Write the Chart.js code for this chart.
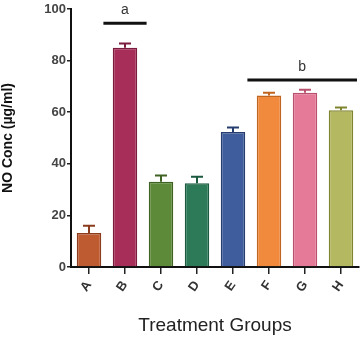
<!DOCTYPE html>
<html lang="en">
<head>
  <meta charset="UTF-8" />
  <title>NO Conc by Treatment Group</title>
  <script src="https://cdn.jsdelivr.net/npm/chart.js"></script>
  <style>
    body { margin: 0; background: #fff; }
    .wrap { width: 360px; height: 343px; }
  </style>
</head>
<body>
  <div class="wrap"><canvas id="noChart"></canvas></div>

  <script>
    // data
    const groups = ["A", "B", "C", "D", "E", "F", "G", "H"];
    const noConc = [13.2, 85, 33, 32.5, 52.3, 66.5, 67.5, 60.8];
    const noErr = [2.8, 1.6, 2.5, 2.5, 1.8, 1.0, 1.2, 1.0];
    const yTicks = [0, 20, 40, 60, 80, 100];

    // significance bars: label, first/last group, height (in y units)
    const sigLabels = ["a", "b"];
    const sigFrom = ["B", "F"];
    const sigTo = ["B", "H"];
    const sigLevel = [94.5, 72.5];

    const fillColors = ["#bf5b30", "#a62e58", "#5c8a38", "#2c7a58", "#3f5d9c", "#f28a3e", "#e47a98", "#b4b860"];
    const edgeColors = ["#8a3c1c", "#7a1c3e", "#3e6222", "#1a5a3e", "#243c70", "#c06620", "#b8506e", "#80842e"];

    const extras = {
      id: "extras",
      afterDatasetsDraw(chart) {
        const { ctx, scales: { x, y } } = chart;
        ctx.save();
        // error bars (upper half only)
        noConc.forEach((v, i) => {
          const cx = x.getPixelForValue(i);
          const top = y.getPixelForValue(v);
          const hi = y.getPixelForValue(v + noErr[i]);
          ctx.strokeStyle = edgeColors[i];
          ctx.lineWidth = 2;
          ctx.beginPath();
          ctx.moveTo(cx, top);
          ctx.lineTo(cx, hi);
          ctx.moveTo(cx - 6, hi);
          ctx.lineTo(cx + 6, hi);
          ctx.stroke();
        });
        // significance lines
        const step = x.getPixelForValue(1) - x.getPixelForValue(0);
        sigLabels.forEach((lab, i) => {
          const x0 = x.getPixelForValue(groups.indexOf(sigFrom[i])) - step * 0.6;
          const x1 = Math.min(x.getPixelForValue(groups.indexOf(sigTo[i])) + step * 0.6, x.right - 2);
          const ly = y.getPixelForValue(sigLevel[i]);
          ctx.strokeStyle = "#111";
          ctx.lineWidth = 3;
          ctx.beginPath();
          ctx.moveTo(x0, ly);
          ctx.lineTo(x1, ly);
          ctx.stroke();
          ctx.fillStyle = "#333";
          ctx.font = "14px 'Liberation Sans', Arial, sans-serif";
          ctx.textAlign = "center";
          ctx.textBaseline = "bottom";
          ctx.fillText(lab, (x0 + x1) / 2, ly - 6);
        });
        ctx.restore();
      }
    };

    new Chart(document.getElementById("noChart"), {
      type: "bar",
      data: {
        labels: groups,
        datasets: [{
          data: noConc,
          backgroundColor: fillColors,
          borderColor: edgeColors,
          borderWidth: 1.5,
          barPercentage: 0.68,
          categoryPercentage: 1
        }]
      },
      options: {
        responsive: true,
        maintainAspectRatio: false,
        animation: false,
        layout: { padding: { top: 9, right: 1, left: 0, bottom: 0 } },
        plugins: { legend: { display: false }, tooltip: { enabled: false } },
        scales: {
          x: {
            offset: true,
            grid: { offset: false, drawOnChartArea: false, drawTicks: true, tickLength: 7, color: "#222", lineWidth: 1.5 },
            border: { display: true, color: "#111", width: 2 },
            ticks: {
              color: "#333",
              minRotation: 55,
              maxRotation: 55,
              padding: 4,
              font: { family: "'Liberation Sans', Arial, sans-serif", size: 13, weight: "bold" }
            },
            title: {
              display: true,
              text: "Treatment Groups",
              color: "#222",
              padding: { top: 2, bottom: 6 },
              font: { family: "'Liberation Sans Narrow', 'Liberation Sans', Arial, sans-serif", size: 19 }
            },
            afterFit(scale) { scale.height = 76; }
          },
          y: {
            min: 0,
            max: 100,
            afterBuildTicks(scale) { scale.ticks = yTicks.map(v => ({ value: v })); },
            grid: { drawOnChartArea: false, drawTicks: true, tickLength: 4, color: "#222", lineWidth: 1.5 },
            border: { display: true, color: "#111", width: 2 },
            ticks: {
              color: "#444",
              padding: 1,
              font: { family: "'Liberation Sans', Arial, sans-serif", size: 13, weight: "bold" }
            },
            title: {
              display: true,
              text: "NO Conc (µg/ml)",
              color: "#111",
              padding: { top: 0, bottom: 12 },
              font: { family: "'Liberation Sans', Arial, sans-serif", size: 14, weight: "bold" }
            },
            afterFit(scale) { scale.width = 71; }
          }
        }
      },
      plugins: [extras]
    });
  </script>
</body>
</html>
